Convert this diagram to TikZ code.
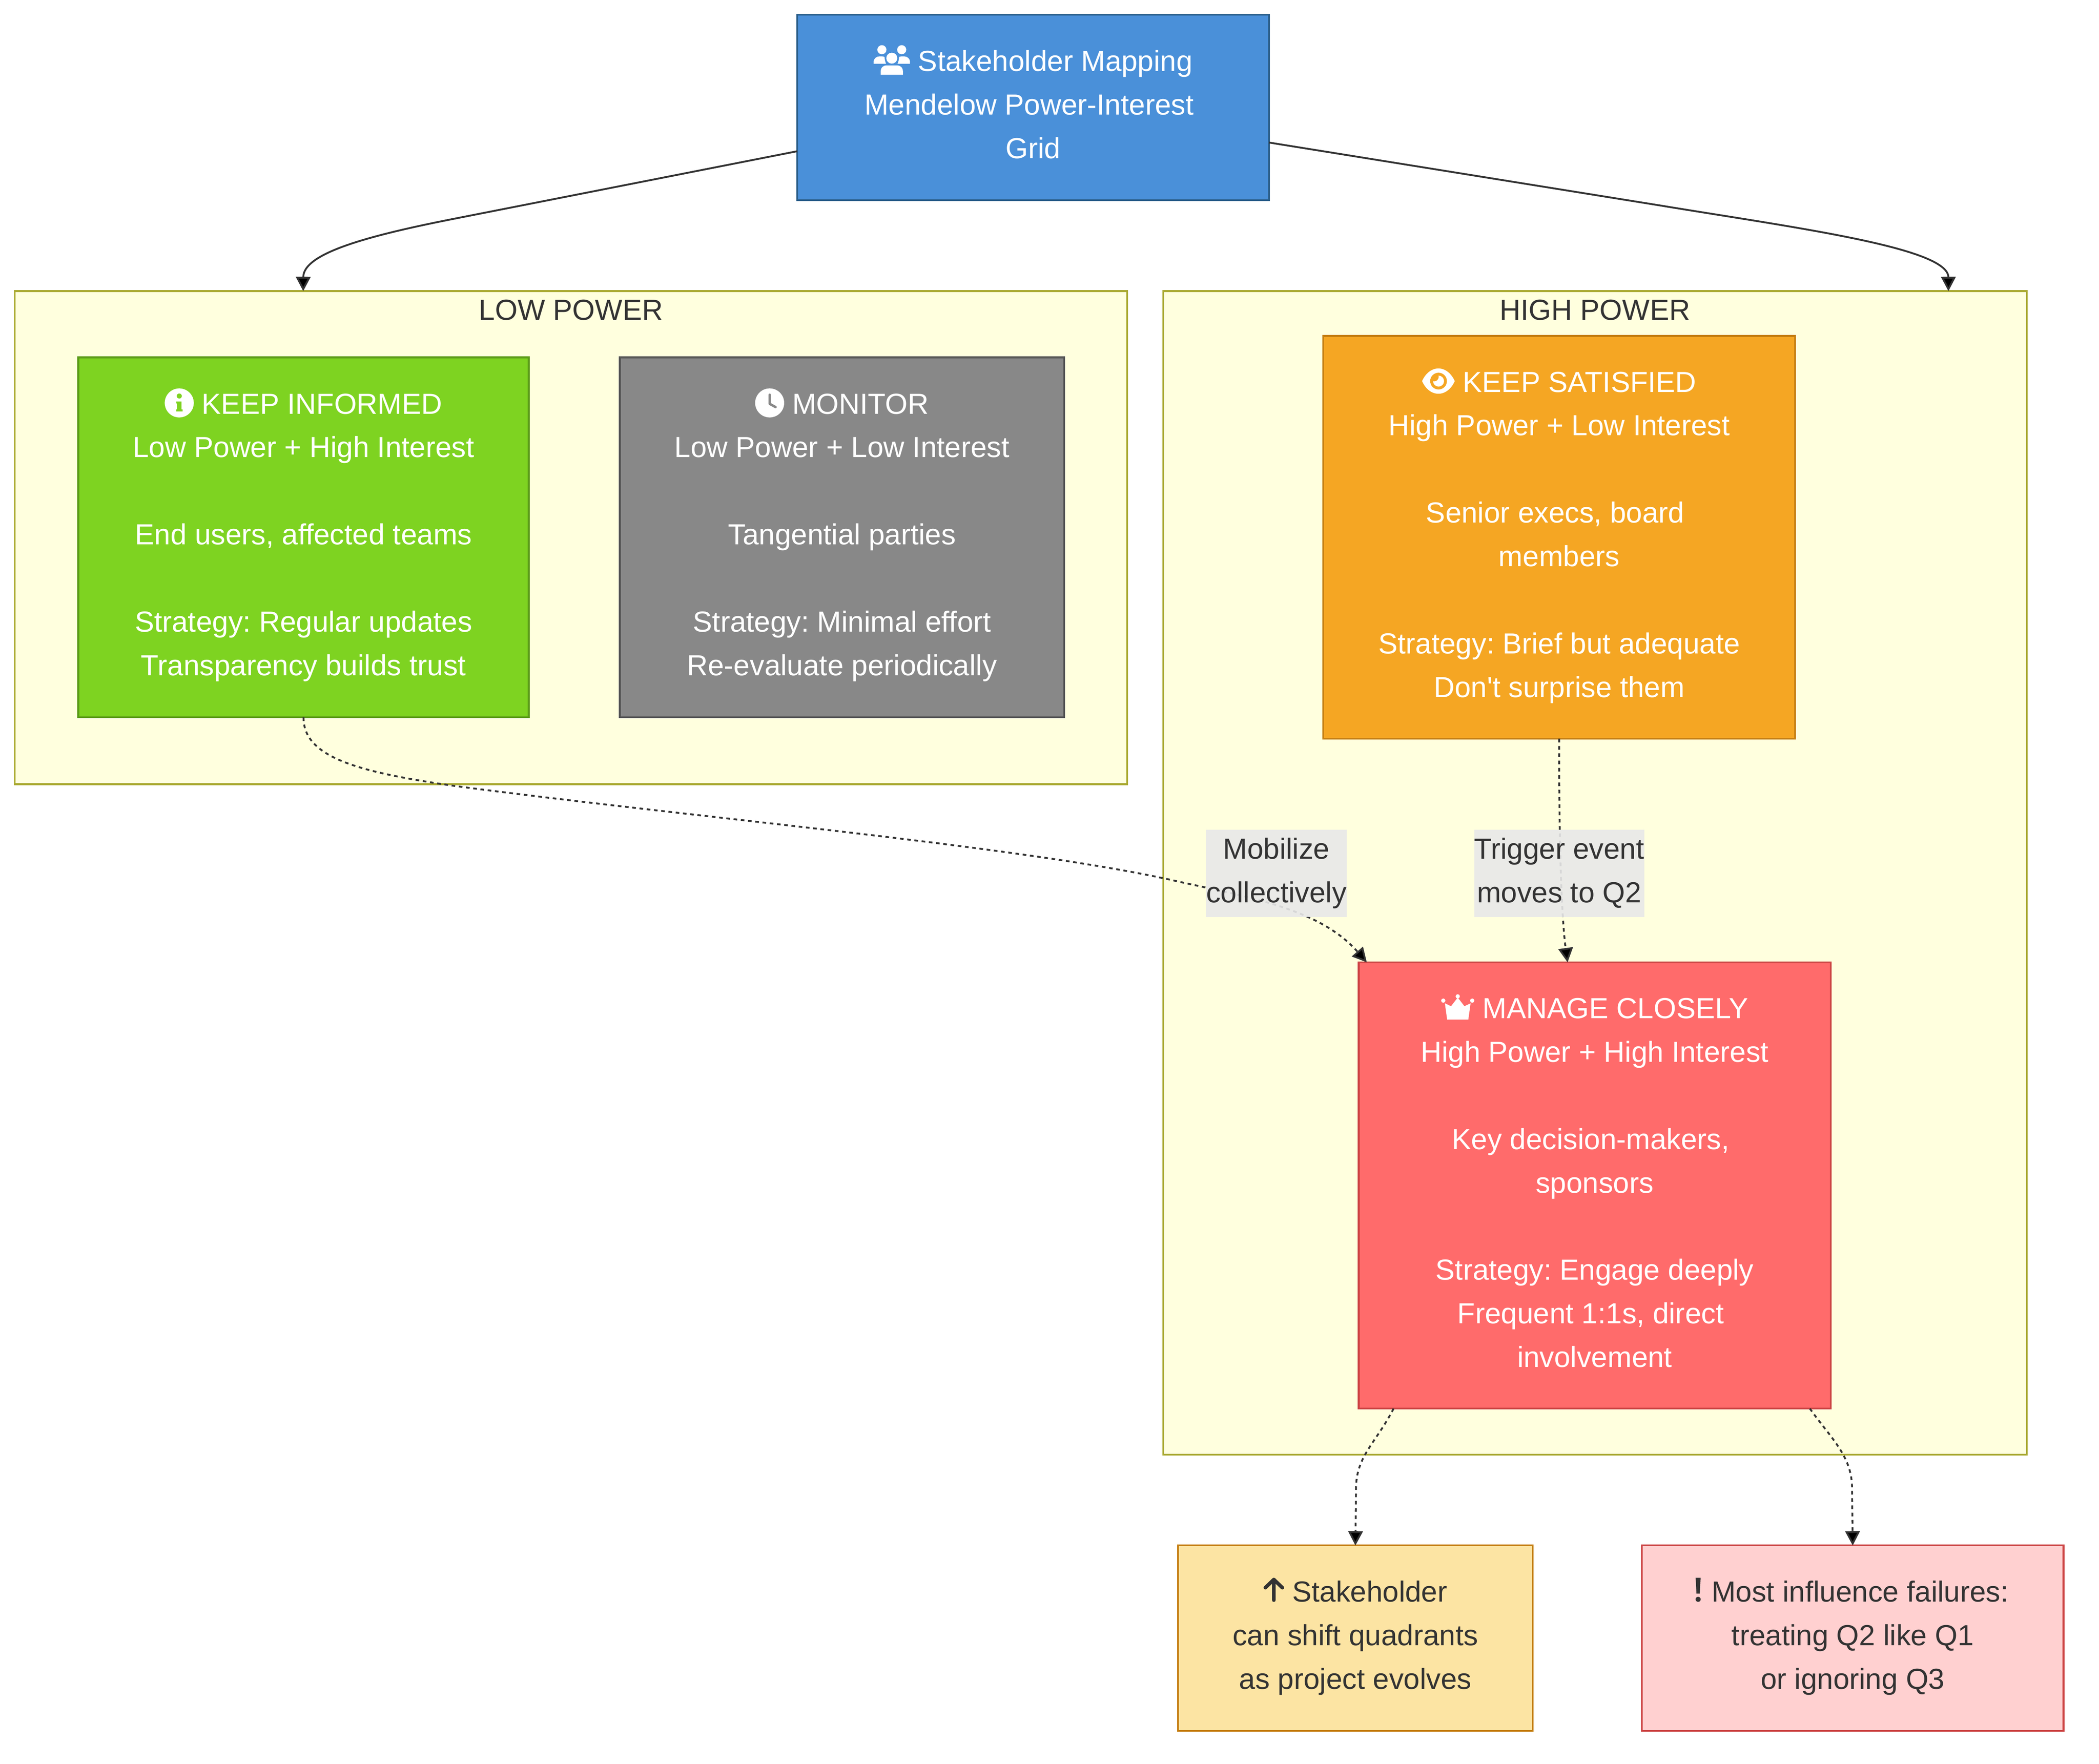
\documentclass[tikz,border=0pt]{standalone}
\usepackage{fontspec}
\setmainfont{Liberation Sans}[Ligatures=TeXOff]
\usetikzlibrary{arrows.meta}
\definecolor{inkdark}{HTML}{333333}
\definecolor{titlefill}{HTML}{4A90D9}
\definecolor{titleline}{HTML}{2C5F8A}
\definecolor{infofill}{HTML}{7ED321}
\definecolor{infoline}{HTML}{5A9A18}
\definecolor{monfill}{HTML}{888888}
\definecolor{monline}{HTML}{555555}
\definecolor{satfill}{HTML}{F5A623}
\definecolor{satline}{HTML}{C47D10}
\definecolor{manfill}{HTML}{FF6B6B}
\definecolor{manline}{HTML}{CC4444}
\definecolor{shiftfill}{HTML}{FCE4A3}
\definecolor{warnfill}{HTML}{FFD0D0}
\definecolor{groupfill}{HTML}{FFFFDE}
\definecolor{groupline}{HTML}{AAAA33}
\definecolor{edgefill}{HTML}{E8E8E8}
\newcommand{\lst}{\rule[-10.8pt]{0pt}{32.6pt}}
\newcommand{\wsp}{\kern6pt}
\newcommand{\icoUsers}{\tikz[baseline=2.7pt,x=1pt,y=1pt]{
    \fill[white] (6.2,18.7) circle (3.4) (21,18.7) circle (3.4) (13.6,12.4) circle (4.1);
    \fill[white] (5.3,0) -- (5.3,2.5) .. controls (5.3,5.5) and (7.5,7) .. (9.5,7) -- (17.7,7) .. controls (19.7,7) and (21.9,5.5) .. (21.9,2.5) -- (21.9,0) -- cycle;
    \fill[white] (0,8.2) -- (0,9.5) .. controls (0,12) and (2,13.7) .. (4.2,13.7) -- (6.5,13.7) .. controls (7.3,13.7) and (8,13.4) .. (8.2,13.2) .. controls (8.2,11) and (8.8,9.5) .. (9.3,8.2) -- cycle;
    \fill[white] (27.2,8.2) -- (27.2,9.5) .. controls (27.2,12) and (25.2,13.7) .. (23,13.7) -- (20.7,13.7) .. controls (19.9,13.7) and (19.2,13.4) .. (19,13.2) .. controls (19,11) and (18.4,9.5) .. (17.9,8.2) -- cycle;
}}
\newcommand{\icoInfo}[1]{\tikz[baseline=2.7pt,x=1pt,y=1pt]{
    \fill[white] (10.85,10.85) circle (10.85);
    \fill[#1] (10.85,16) circle (1.9);
    \fill[#1] (8.5,11.9) -- (12.5,11.9) -- (12.5,6) -- (13.3,6) -- (13.3,4.5) -- (8.5,4.5) -- (8.5,6) -- (9.3,6) -- (9.3,10.4) -- (8.5,10.4) -- cycle;
}}
\newcommand{\icoClock}[1]{\tikz[baseline=2.7pt,x=1pt,y=1pt]{
    \fill[white] (10.85,10.85) circle (10.85);
    \draw[#1,line width=1.8pt,line cap=round,line join=round] (10.85,16.95) -- (10.85,10.15) -- (15.25,7.75);
}}
\newcommand{\icoEye}[1]{\tikz[baseline=2.7pt,x=1pt,y=1pt]{
    \fill[white] (0,10.85) .. controls (2.5,16.5) and (7,20.3) .. (12.2,20.3) .. controls (17.4,20.3) and (21.9,16.5) .. (24.4,10.85) .. controls (21.9,5.2) and (17.4,1.4) .. (12.2,1.4) .. controls (7,1.4) and (2.5,5.2) .. (0,10.85) -- cycle;
    \fill[#1] (12.3,10.85) circle (6.25);
    \fill[white] (12.3,10.85) circle (4.1);
    \begin{scope}
        \clip (12.3,10.85) circle (5);
        \fill[#1] (9,14.05) circle (3.4);
    \end{scope}
}}
\newcommand{\icoCrown}{\tikz[baseline=1pt,x=1pt,y=1pt]{
    \path (-0.35,0) rectangle (24.75,19);
    \fill[white] (4.3,0) -- (2.6,12.2) -- (7.2,10) -- (12.2,16.5) -- (17.2,10) -- (21.8,12.2) -- (20.1,0) -- cycle;
    \fill[white] (1.4,14.2) circle (1.6) (12.2,17.4) circle (1.6) (23,14.2) circle (1.6);
}}
\newcommand{\icoArrow}{\tikz[baseline=0pt,x=1pt,y=1pt]{
    \draw[inkdark,line width=2.7pt,line cap=round,line join=round] (8.25,1.3) -- (8.25,16.7) (1.9,10.6) -- (8.25,16.7) -- (14.6,10.6);
}}
\newcommand{\icoBang}{\tikz[baseline=0pt,x=1pt,y=1pt]{
    \path (0,0) rectangle (8.1,18);
    \fill[inkdark] (2.2,18) -- (5.9,18) -- (5.3,6.2) -- (2.8,6.2) -- cycle;
    \fill[inkdark] (4.05,1.9) circle (1.9);
}}
\begin{document}
\begin{tikzpicture}[
        x=1pt,
        y=-1pt,
        >={Triangle[length=10.7pt,width=10.9pt]},
        every node/.style={font=\fontsize{21.7}{32.6}\selectfont\frenchspacing, align=center, outer sep=0pt, inner sep=0pt},
        grouped/.style={rectangle, draw=groupline, fill=groupfill, line width=1.36pt},
        titled/.style={text=inkdark},
        quad/.style={rectangle, line width=1.36pt, text=white},
        note/.style={quad, text=inkdark},
        flow/.style={->, draw=inkdark, line width=1.36pt},
        weak/.style={flow, dash pattern=on 2.72pt off 2.72pt},
        edgetext/.style={fill=edgefill, fill opacity=0.9, text opacity=1, text=inkdark}
    ]
    \useasboundingbox (0,0) rectangle (1568,1318);

    \node[grouped, minimum width=831pt, minimum height=368.5pt] (low) at (426.5,401.75) {};
    \node[grouped, minimum width=645pt, minimum height=869.5pt] (high) at (1191.5,652.25) {};
    \node[titled] (lowtitle) at (426.5,231.5) {LOW POWER};
    \node[titled] (hightitle) at (1191.5,231.5) {HIGH POWER};

    \node[quad, fill=titlefill, draw=titleline, minimum width=352.5pt, minimum height=138.5pt] (map) at (771.75,80.25) {
        \lst\icoUsers{} Stakeholder Mapping\\
        Mendelow Power-Interest\wsp\\
        Grid\lst};
    \node[quad, fill=infofill, draw=infoline, minimum width=336.5pt, minimum height=269pt] (inform) at (226.75,401.5) {
        \lst\icoInfo{infofill} KEEP INFORMED\\
        Low Power + High Interest\\[32.6pt]
        End users, affected teams\\[32.6pt]
        Strategy: Regular updates\\
        Transparency builds trust\lst};
    \node[quad, fill=monfill, draw=monline, minimum width=332pt, minimum height=269pt] (monitor) at (629,401.5) {
        \lst\icoClock{monfill} MONITOR\\
        Low Power + Low Interest\\[32.6pt]
        Tangential parties\\[32.6pt]
        Strategy: Minimal effort\\
        Re-evaluate periodically\lst};
    \node[quad, fill=satfill, draw=satline, minimum width=352.5pt, minimum height=301pt] (satisfy) at (1164.75,401.5) {
        \lst\icoEye{satfill} KEEP SATISFIED\\
        High Power + Low Interest\\[32.6pt]
        Senior execs, board\wsp\\
        members\\[32.6pt]
        Strategy: Brief but adequate\\
        Don't surprise them\lst};
    \node[quad, fill=manfill, draw=manline, minimum width=352.5pt, minimum height=333.5pt] (manage) at (1191.25,885.75) {
        \lst\icoCrown{} MANAGE CLOSELY\\
        High Power + High Interest\\[32.6pt]
        Key decision-makers,\wsp\\
        sponsors\\[32.6pt]
        Strategy: Engage deeply\\
        Frequent 1:1s, direct\wsp\\
        involvement\lst};
    \node[note, fill=shiftfill, draw=satline, minimum width=265pt, minimum height=138.5pt] (shift) at (1012.5,1224) {
        \lst\icoArrow{} Stakeholder\\
        can shift quadrants\\
        as project evolves\lst};
    \node[note, fill=warnfill, draw=manline, minimum width=315pt, minimum height=138.5pt] (warn) at (1384,1224) {
        \lst\icoBang{} Most influence failures:\kern3pt\\
        treating Q2 like Q1\\
        or ignoring Q3\lst};

    \draw[flow] ([yshift=-32.75pt]map.west) -- (340,163.3) .. controls (270,177) and (226.6,190) .. ([xshift=-200pt]low.north);
    \draw[flow] ([yshift=-26.25pt]map.east) -- (1240,153.5) .. controls (1340,170) and (1455.4,185) .. ([xshift=264pt]high.north);

    \draw[weak] (inform.south) .. controls (226.5,566) and (268,577) .. (340,587.3) .. controls (520,611) and (760,632) .. (875,657.5) .. controls (930,670) and (985,678) .. ([xshift=-170.25pt]manage.north);
    \draw[weak] (satisfy.south) .. controls (1164.5,640) and (1167,690) .. ([xshift=-20.25pt]manage.north);
    \draw[weak] ([xshift=-150.25pt]manage.south) .. controls (1028,1078) and (1013,1088) .. (1013,1112) -- (shift.north);
    \draw[weak] ([xshift=160.75pt]manage.south) .. controls (1368,1075) and (1383.5,1088) .. (1383.5,1112) -- (warn.north);

    \node[edgetext] (mobilize) at (953.5,652.5) {\lst Mobilize\\collectively\lst};
    \node[edgetext] (trigger) at (1164.75,652.5) {\lst Trigger event\\moves to Q2\lst};
\end{tikzpicture}
\end{document}
